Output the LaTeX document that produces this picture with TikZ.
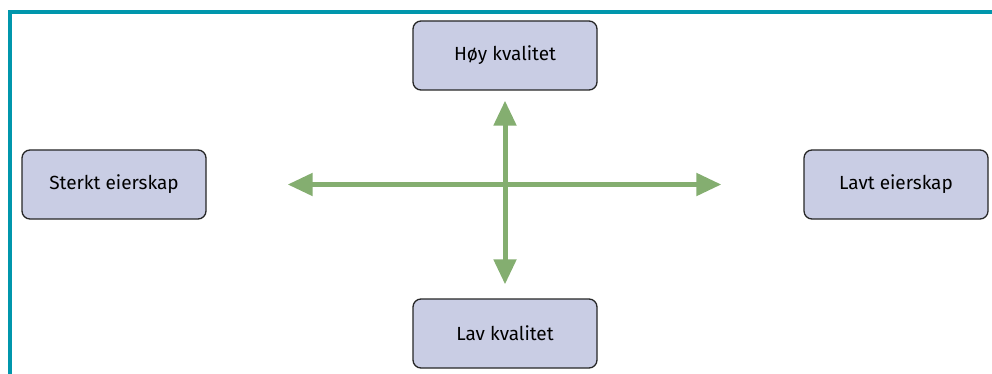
\documentclass[tikz,border=0pt]{standalone}
\usepackage{fontspec}
\setmainfont{Fira Sans}
\usetikzlibrary{arrows.meta}

\definecolor{ramme}{RGB}{0,150,172}
\definecolor{boks}{RGB}{201,205,228}
\definecolor{pil}{RGB}{132,174,112}

\begin{document}
\begin{tikzpicture}[x=1pt, y=-1pt]
    \useasboundingbox (0, 0) rectangle (992, 374);
    \draw[ramme, line width=4pt] (10, 374) -- (10, 12) -- (992, 12);

    \begin{scope}[every node/.style={draw=black!85, fill=boks, line width=1.3pt,
            rounded corners=8pt, minimum width=184pt, minimum height=69pt,
            font=\fontsize{19}{23}\selectfont}]
        \node (Sk) at (114, 184.5) {Sterkt eierskap};
        \node (Hk) at (505, 55.5)  {Høy kvalitet};
        \node (Lk) at (505, 333.5) {Lav kvalitet};
        \node (Le) at (896, 184.5) {Lavt eierskap};
    \end{scope}

    \begin{scope}[>={Triangle[length=25pt, width=22pt]}, pil, line width=5pt]
        \draw[<->, shorten <=81pt, shorten >=82pt] (Sk) -- (Le);
        \draw[<->, shorten <=10pt, shorten >=14pt] (Hk) -- (Lk);
    \end{scope}
\end{tikzpicture}
\end{document}
